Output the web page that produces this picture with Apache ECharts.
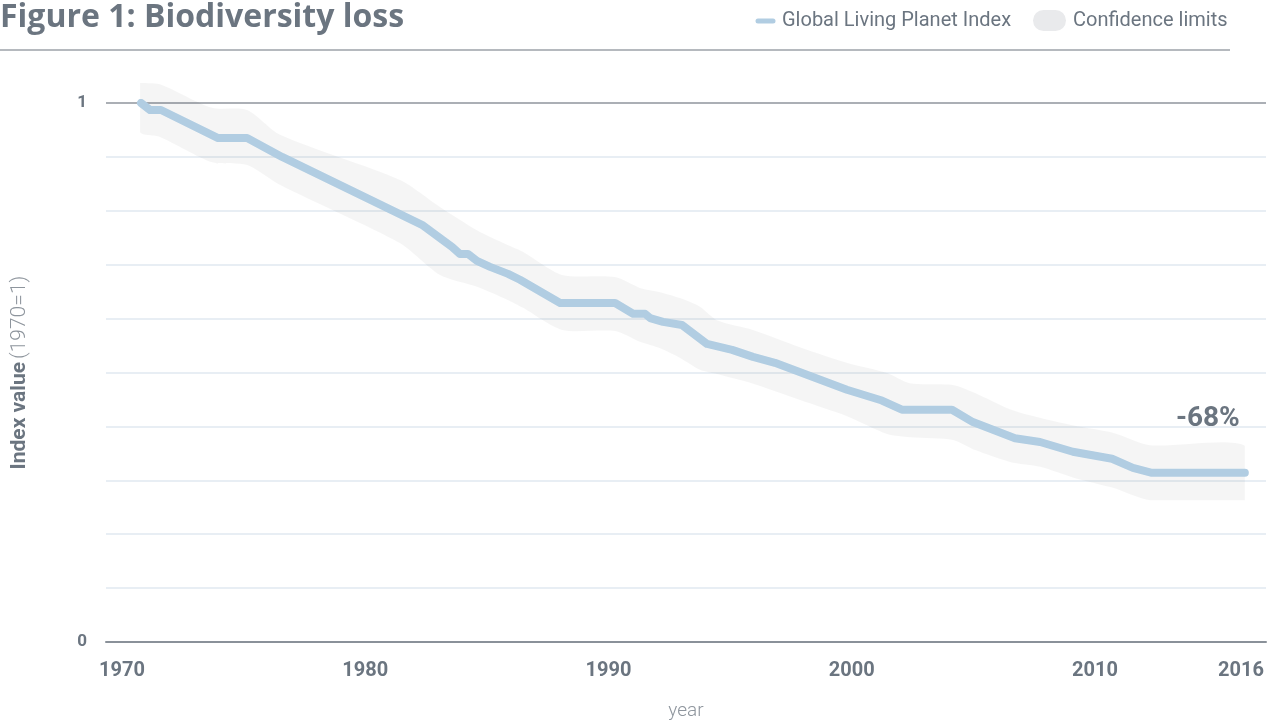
<!DOCTYPE html>
<html>
<head>
<meta charset="utf-8">
<title>Figure 1: Biodiversity loss</title>
<script src="https://cdn.jsdelivr.net/npm/echarts@6/dist/echarts.min.js"></script>
<style>
  html, body { margin: 0; padding: 0; background: #fff; }
  #chart { width: 1272px; height: 722px; }
</style>
</head>
<body>
<div id="chart"></div>
<script>
// Global Living Planet Index (1970 = 1), vertices
const lpiYears = [1970.78, 1971.15, 1971.6, 1973.95, 1975.14, 1976.58, 1982.33, 1983.57, 1983.89, 1984.22,
  1984.59, 1985.13, 1985.87, 1986.36, 1988.01, 1990.27, 1991.01, 1991.5, 1991.71, 1992.24,
  1993.02, 1994.05, 1995.08, 1995.94, 1996.84, 1999.8, 2001.24, 2002.06, 2004.12, 2004.98,
  2006.71, 2007.74, 2009.09, 2010.7, 2011.56, 2012.34, 2016.16];
const lpiValues = [1.0, 0.987, 0.987, 0.935, 0.935, 0.9, 0.774, 0.733, 0.72, 0.72,
  0.707, 0.696, 0.683, 0.672, 0.629, 0.629, 0.609, 0.609, 0.601, 0.594,
  0.588, 0.553, 0.542, 0.529, 0.518, 0.468, 0.448, 0.431, 0.431, 0.408,
  0.378, 0.371, 0.353, 0.34, 0.323, 0.314, 0.314];

// Confidence limits
const ciYears = [1970.74, 1971.56, 1973.7, 1975.14, 1976.5, 1981.43, 1983.07, 1984.59, 1985.83, 1986.48,
  1988.09, 1990.27, 1991.29, 1992.12, 1992.94, 1993.76, 1994.46, 1995.94, 1997.87, 1999.8,
  2001.45, 2002.39, 2004.16, 2005.07, 2006.5, 2007.74, 2009.18, 2010.74, 2012.26, 2016.16];
const ciUpper = [1.037, 1.035, 0.991, 0.987, 0.941, 0.857, 0.807, 0.764, 0.737, 0.724,
  0.681, 0.677, 0.657, 0.649, 0.638, 0.622, 0.597, 0.579, 0.547, 0.518,
  0.499, 0.48, 0.477, 0.462, 0.432, 0.416, 0.401, 0.388, 0.365, 0.364];
const ciLower = [0.946, 0.937, 0.89, 0.885, 0.848, 0.74, 0.681, 0.659, 0.635, 0.62,
  0.579, 0.577, 0.557, 0.545, 0.527, 0.505, 0.497, 0.479, 0.449, 0.419,
  0.386, 0.38, 0.375, 0.356, 0.334, 0.325, 0.304, 0.286, 0.263, 0.263];

const xTickYears = [1970, 1980, 1990, 2000, 2010, 2016];
const yTickValues = [0, 1];
const changeLabel = '-68%';

const font = 'Roboto, "Noto Sans", sans-serif';
const textDark = '#6b7580';
const textLight = '#8e959d';
const lineBlue = '#b1cde2';
const bandGrey = 'rgba(0,0,0,0.04)';

const chart = echarts.init(document.getElementById('chart'));

const splitColors = [];
for (let i = 0; i <= 10; i++) splitColors.push(i === 0 || i === 10 ? '#8f959c' : '#e0e8f0');

// whole confidence band drawn as one smoothed polygon through the axis scales
function renderBand(params, api) {
  if (params.dataIndex !== 0) return null;
  const top = ciYears.map((y, i) => api.coord([y, ciUpper[i]]));
  const bottom = ciYears.map((y, i) => api.coord([y, ciLower[i]])).reverse();
  const pts = top.concat(bottom);
  const xs = pts.map(p => p[0]);
  const ys = pts.map(p => p[1]);
  const box = [[Math.min(...xs), Math.min(...ys)], [Math.max(...xs), Math.max(...ys)]];
  return {
    type: 'polygon',
    shape: { points: pts, smooth: 0.25, smoothConstraint: box },
    style: { fill: bandGrey },
    silent: true
  };
}

const option = {
  animation: false,
  textStyle: { fontFamily: font },
  title: {
    text: 'Figure 1: Biodiversity loss',
    left: 0, top: 2, padding: 0,
    textStyle: { fontSize: 32, fontWeight: 'bold', color: textDark, fontFamily: '"Open Sans", Roboto, sans-serif' }
  },
  grid: { left: 106, right: 6, top: 103, bottom: 80, outerBoundsMode: 'none' },
  xAxis: {
    type: 'value',
    min: 1969.34, max: 2017.03,
    name: 'year',
    nameLocation: 'middle',
    nameGap: 60,
    nameTextStyle: { fontSize: 19, color: textLight, fontWeight: 300 },
    axisLine: { lineStyle: { color: '#8a9199', width: 2 } },
    axisTick: { show: false },
    splitLine: { show: false },
    axisLabel: {
      customValues: xTickYears,
      margin: 19,
      fontSize: 20, fontWeight: 'bold', color: textDark,
      formatter: v => String(v)
    }
  },
  yAxis: {
    type: 'value',
    min: 0, max: 1, interval: 0.1,
    name: '{b|Index value} {l|(1970=1)}',
    nameLocation: 'middle',
    nameRotate: 90,
    nameGap: 76,
    nameTextStyle: {
      rich: {
        b: { fontSize: 21, fontWeight: 'bold', color: textDark },
        l: { fontSize: 21, fontWeight: 300, color: textLight }
      }
    },
    axisLine: { show: false },
    axisTick: { show: false },
    splitLine: { lineStyle: { color: splitColors, width: 1.5 } },
    axisLabel: {
      margin: 19,
      fontSize: 17, fontWeight: 'bold', color: textDark,
      formatter: v => (yTickValues.indexOf(v) >= 0 ? String(v) : '')
    }
  },
  series: [
    {
      name: 'Confidence limits',
      type: 'custom',
      renderItem: renderBand,
      clip: false,
      encode: { x: 0, y: [1, 2] },
      data: ciYears.map((y, i) => [y, ciLower[i], ciUpper[i]]),
      z: 1
    },
    {
      name: 'Global Living Planet Index',
      type: 'line',
      symbol: 'none',
      lineStyle: { color: lineBlue, width: 8, cap: 'round', join: 'round' },
      data: lpiYears.map((y, i) => [y, lpiValues[i]]),
      markPoint: {
        symbol: 'circle',
        symbolSize: 0,
        silent: true,
        data: [{ coord: [lpiYears[lpiYears.length - 1], lpiValues[lpiValues.length - 1]] }],
        label: {
          show: true,
          formatter: changeLabel,
          position: 'inside',
          offset: [-37, -54],
          fontSize: 28, fontWeight: 'bold', color: textDark
        }
      },
      z: 3
    }
  ],
  graphic: [
    { type: 'line', shape: { x1: 0, y1: 50, x2: 1230, y2: 50 }, style: { stroke: '#b5b9be', lineWidth: 2 } },
    { type: 'line', shape: { x1: 758, y1: 21, x2: 773, y2: 21 }, style: { stroke: lineBlue, lineWidth: 5, lineCap: 'round' } },
    { type: 'text', x: 782, y: 21, style: { text: 'Global Living Planet Index', fontSize: 20, fill: textDark, verticalAlign: 'middle', fontFamily: font } },
    { type: 'rect', shape: { x: 1033, y: 10, width: 33, height: 21, r: 10.5 }, style: { fill: '#e9eaec' } },
    { type: 'text', x: 1073, y: 21, style: { text: 'Confidence limits', fontSize: 20, fill: textDark, verticalAlign: 'middle', fontFamily: font } }
  ]
};

chart.setOption(option);
</script>
</body>
</html>
